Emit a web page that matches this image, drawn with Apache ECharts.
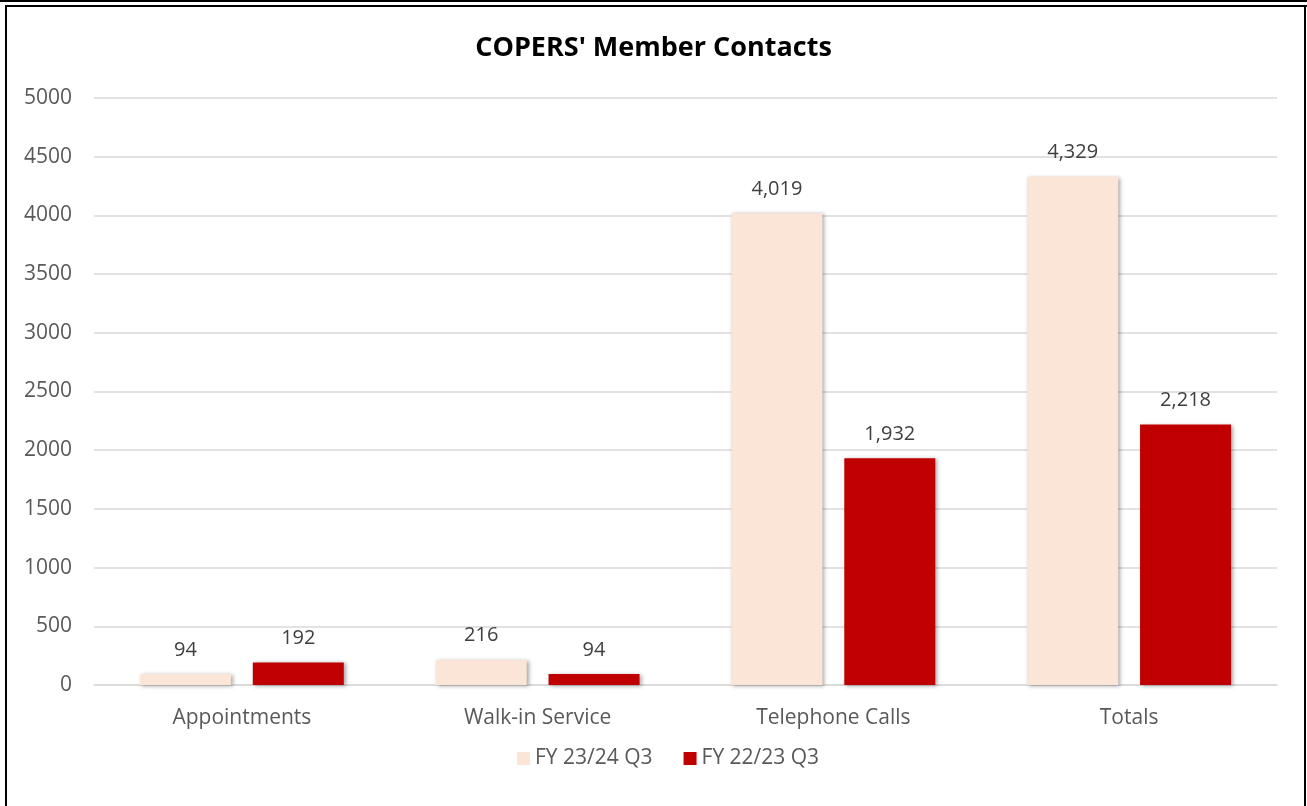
<!DOCTYPE html>
<html>
<head>
<meta charset="utf-8">
<script src="https://cdn.jsdelivr.net/npm/echarts@6/dist/echarts.min.js"></script>
<style>
html,body{margin:0;padding:0;background:#fff;}
#frame{position:absolute;left:0;top:0;width:1307px;height:806px;overflow:hidden;}
#top1{position:absolute;left:0;top:0;width:1307px;height:2px;background:#000;}
#top2{position:absolute;left:5px;top:5px;width:1302px;height:2px;background:#000;}
#left{position:absolute;left:5px;top:5px;width:2px;height:801px;background:#000;}
#right{position:absolute;left:1304px;top:5px;width:2px;height:801px;background:#000;}
#chart{position:absolute;left:0;top:0;width:1307px;height:806px;}
</style>
</head>
<body>
<div id="frame">
<div id="chart"></div>
<div id="top1"></div><div id="top2"></div><div id="left"></div><div id="right"></div>
</div>
<script>
const categories = ['Appointments', 'Walk-in Service', 'Telephone Calls', 'Totals'];
const seriesNames = ['FY 23/24 Q3', 'FY 22/23 Q3'];
const fy2324 = [94, 216, 4019, 4329];
const fy2223 = [192, 94, 1932, 2218];
const yTicks = [0, 500, 1000, 1500, 2000, 2500, 3000, 3500, 4000, 4500, 5000];
const colors = ['#FBE5D6', '#C00000'];

const font = "'Open Sans', 'Noto Sans', sans-serif";
const chart = echarts.init(document.getElementById('chart'));
const labelCfg = {
  show: true, position: 'top', distance: 14,
  color: '#404040', fontSize: 20, fontFamily: font,
  formatter: p => p.value.toLocaleString('en-US')
};
const shadow = {shadowBlur: 4, shadowColor: 'rgba(0,0,0,0.35)', shadowOffsetX: 2, shadowOffsetY: 1};
chart.setOption({
  animation: false,
  title: {
    text: "COPERS' Member Contacts", left: 'center', top: 30,
    textStyle: {fontFamily: font, fontWeight: 'bold', fontSize: 27, color: '#000'}
  },
  legend: {
    bottom: 32, left: 512, itemWidth: 13, itemHeight: 13, itemGap: 31,
    icon: 'rect',
    textStyle: {color: '#595959', fontSize: 21, fontFamily: font},
    data: seriesNames
  },
  grid: {left: 94, right: 30, top: 98, bottom: 121, containLabel: false},
  xAxis: {
    type: 'category', data: categories,
    axisLine: {lineStyle: {color: '#d9d9d9', width: 1.5}},
    axisTick: {show: false},
    axisLabel: {color: '#595959', fontSize: 21, fontFamily: font, margin: 23}
  },
  yAxis: {
    type: 'value', min: yTicks[0], max: yTicks[yTicks.length - 1], interval: 500,
    axisLine: {show: false}, axisTick: {show: false},
    splitLine: {lineStyle: {color: '#d9d9d9', width: 1.5}},
    axisLabel: {color: '#595959', fontSize: 21, fontFamily: font, margin: 22,
      formatter: v => String(v)}
  },
  series: [
    {name: seriesNames[0], type: 'bar', data: fy2324, barWidth: 91, barGap: '24%',
     itemStyle: Object.assign({color: colors[0]}, shadow), label: labelCfg},
    {name: seriesNames[1], type: 'bar', data: fy2223, barWidth: 91, barGap: '24%',
     itemStyle: Object.assign({color: colors[1]}, shadow), label: labelCfg}
  ]
});
</script>
</body>
</html>
